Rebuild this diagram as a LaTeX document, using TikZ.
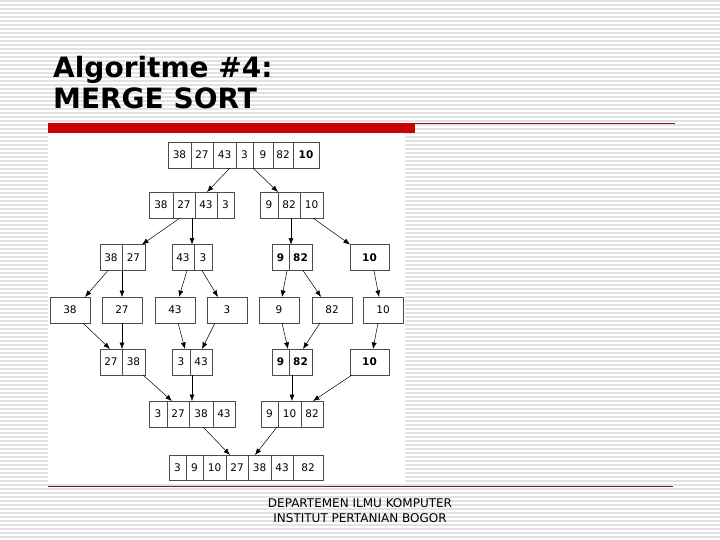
\documentclass[tikz,border=0pt]{standalone}
\usepackage{fontspec}
\setmainfont{DejaVu Sans}
\usepackage{xcolor}
\usepackage{tikz}
\usetikzlibrary{arrows.meta, positioning}

\definecolor{slidered}{RGB}{204,0,0}
\definecolor{linered}{RGB}{120,30,30}
\definecolor{stripegray}{RGB}{226,226,226}

\begin{document}
\begin{tikzpicture}[
        x=1pt, y=-1pt,
        cell/.style={draw=black!70, line width=0.7pt, rectangle, minimum height=26pt, inner sep=0pt, outer sep=0pt, font=\fontsize{10.5}{12}\selectfont},
        arrow/.style={-{Latex[length=6.5pt, width=5pt]}, line width=0.5pt},
        stripe/.style={stripegray, line width=1.3pt},
        heading/.style={anchor=base west, inner sep=0pt, font=\fontsize{28}{31}\selectfont\bfseries},
        footer/.style={anchor=base, inner sep=0pt, font=\fontsize{12}{14}\selectfont}
    ]
        \useasboundingbox (0,0) rectangle (720,540);
        % Background
        \fill[white] (0,0) rectangle (720,540);
        \foreach \y in {1,5,...,537} \draw[stripe] (0,\y) -- (720,\y);
        \fill[white] (48,133) rectangle (405,482);
        \fill[slidered] (48,123) rectangle (415,133);
        \draw[linered, line width=1pt] (415,123.5) -- (675,123.5);
        \draw[linered, line width=1pt] (48,486) -- (673,486);

        % Title
        \node[heading] (title) at (53,78) {Algoritme \#4:};
        \node[heading] (subtitle) at (53,109) {MERGE SORT};

        % Row 1
        \node[cell, anchor=west, minimum width=23pt] (in1) at (168,155) {38};
        \node[cell, minimum width=22pt, right=0pt of in1] (in2) {27};
        \node[cell, minimum width=23pt, right=0pt of in2] (in3) {43};
        \node[cell, minimum width=17pt, right=0pt of in3] (in4) {3};
        \node[cell, minimum width=20pt, right=0pt of in4] (in5) {9};
        \node[cell, minimum width=20pt, right=0pt of in5] (in6) {82};
        \node[cell, minimum width=26pt, right=0pt of in6] (in7) {\textbf{10}};

        % Row 2
        \node[cell, anchor=west, minimum width=24pt] (sa1) at (149,205) {38};
        \node[cell, minimum width=22pt, right=0pt of sa1] (sa2) {27};
        \node[cell, minimum width=22pt, right=0pt of sa2] (sa3) {43};
        \node[cell, minimum width=17pt, right=0pt of sa3] (sa4) {3};
        \node[cell, anchor=west, minimum width=18pt] (sb1) at (260,205) {9};
        \node[cell, minimum width=22pt, right=0pt of sb1] (sb2) {82};
        \node[cell, minimum width=23pt, right=0pt of sb2] (sb3) {10};

        % Row 3
        \node[cell, anchor=west, minimum width=22pt] (sc1) at (100,257.5) {38};
        \node[cell, minimum width=23pt, right=0pt of sc1] (sc2) {27};
        \node[cell, anchor=west, minimum width=22pt] (sd1) at (172,257.5) {43};
        \node[cell, minimum width=18pt, right=0pt of sd1] (sd2) {3};
        \node[cell, anchor=west, minimum width=17pt] (se1) at (272,257.5) {\textbf{9}};
        \node[cell, minimum width=23pt, right=0pt of se1] (se2) {\textbf{82}};
        \node[cell, anchor=west, minimum width=39pt] (sf1) at (350,257.5) {\textbf{10}};

        % Row 4
        \node[cell, anchor=west, minimum width=40pt] (one1) at (50,310) {38};
        \node[cell, anchor=west, minimum width=40pt] (one2) at (102,310) {27};
        \node[cell, anchor=west, minimum width=40pt] (one3) at (155,310) {43};
        \node[cell, anchor=west, minimum width=40pt] (one4) at (207,310) {3};
        \node[cell, anchor=west, minimum width=40pt] (one5) at (259,310) {9};
        \node[cell, anchor=west, minimum width=40pt] (one6) at (312,310) {82};
        \node[cell, anchor=west, minimum width=40pt] (one7) at (363,310) {10};

        % Row 5
        \node[cell, anchor=west, minimum width=22pt] (mc1) at (100,362) {27};
        \node[cell, minimum width=23pt, right=0pt of mc1] (mc2) {38};
        \node[cell, anchor=west, minimum width=18pt] (md1) at (172,362) {3};
        \node[cell, minimum width=22pt, right=0pt of md1] (md2) {43};
        \node[cell, anchor=west, minimum width=17pt] (me1) at (272,362) {\textbf{9}};
        \node[cell, minimum width=23pt, right=0pt of me1] (me2) {\textbf{82}};
        \node[cell, anchor=west, minimum width=39pt] (mf1) at (350,362) {\textbf{10}};

        % Row 6
        \node[cell, anchor=west, minimum width=18pt] (ma1) at (149,414) {3};
        \node[cell, minimum width=22pt, right=0pt of ma1] (ma2) {27};
        \node[cell, minimum width=24pt, right=0pt of ma2] (ma3) {38};
        \node[cell, minimum width=22pt, right=0pt of ma3] (ma4) {43};
        \node[cell, anchor=west, minimum width=17pt] (mb1) at (261,414) {9};
        \node[cell, minimum width=23pt, right=0pt of mb1] (mb2) {10};
        \node[cell, minimum width=22pt, right=0pt of mb2] (mb3) {82};

        % Row 7
        \node[cell, anchor=west, minimum width=17pt, minimum height=25pt] (out1) at (169,467.5) {3};
        \node[cell, minimum width=17pt, minimum height=25pt, right=0pt of out1] (out2) {9};
        \node[cell, minimum width=23pt, minimum height=25pt, right=0pt of out2] (out3) {10};
        \node[cell, minimum width=22pt, minimum height=25pt, right=0pt of out3] (out4) {27};
        \node[cell, minimum width=23pt, minimum height=25pt, right=0pt of out4] (out5) {38};
        \node[cell, minimum width=22pt, minimum height=25pt, right=0pt of out5] (out6) {43};
        \node[cell, minimum width=30pt, minimum height=25pt, right=0pt of out6] (out7) {82};

        % Arrows
        \draw[arrow] ([xshift=5.5]in3.south) -- ([xshift=1]sa3.north);
        \draw[arrow] (in4.south east) -- (sb1.north east);

        \draw[arrow] ([xshift=-4]sa2.south) -- ([xshift=8.5]sc2.north);
        \draw[arrow] ([xshift=8]sa2.south) -- ([xshift=8]sa2.south |- sd1.north);
        \draw[arrow] ([xshift=2]sb2.south) -- ([xshift=2]sb2.south |- se2.north);
        \draw[arrow] ([xshift=1.5]sb3.south) -- (sf1.north west);

        \draw[arrow] ([xshift=-3]sc1.south) -- ([xshift=15]one1.north);
        \draw[arrow] (sc1.south east) -- (sc1.south east |- one2.north);
        \draw[arrow] ([xshift=4]sd1.south) -- ([xshift=4]one3.north);
        \draw[arrow] ([xshift=-1]sd2.south) -- ([xshift=-9]one4.north);
        \draw[arrow] ([xshift=6.5]se1.south) -- ([xshift=3]one5.north);
        \draw[arrow] ([xshift=2.5]se2.south) -- ([xshift=-11]one6.north);
        \draw[arrow] ([xshift=4.5]sf1.south) -- ([xshift=-4]one7.north);

        \draw[arrow] ([xshift=13]one1.south) -- ([xshift=-1]mc1.north);
        \draw[arrow] (one2.south) -- (one2.south |- mc1.north);
        \draw[arrow] ([xshift=3]one3.south) -- ([xshift=4]md1.north);
        \draw[arrow] ([xshift=-12]one4.south) -- ([xshift=1]md2.north);
        \draw[arrow] ([xshift=3]one5.south) -- ([xshift=7.5]me1.north);
        \draw[arrow] ([xshift=-12]one6.south) -- ([xshift=2.5]me2.north);
        \draw[arrow] ([xshift=-5]one7.south) -- ([xshift=3.5]mf1.north);

        \draw[arrow] ([xshift=-2]mc2.south east) -- ([xshift=-6]ma2.north);
        \draw[arrow] ([xshift=-9]md2.south) -- ([xshift=-9]md2.south |- ma3.north);
        \draw[arrow] ([xshift=-8.5]me2.south) -- ([xshift=-8.5]me2.south |- mb2.north);
        \draw[arrow] ([xshift=2]mf1.south west) -- ([xshift=1]mb3.north);

        \draw[arrow] ([xshift=2]ma3.south) -- ([xshift=-7]out4.north);
        \draw[arrow] ([xshift=7.5]mb1.south) -- ([xshift=-4.5]out5.north);

        % Footer
        \node[footer] (dept) at (360,507) {DEPARTEMEN ILMU KOMPUTER};
        \node[footer] (inst) at (360,522) {INSTITUT PERTANIAN BOGOR};
\end{tikzpicture}
\end{document}
